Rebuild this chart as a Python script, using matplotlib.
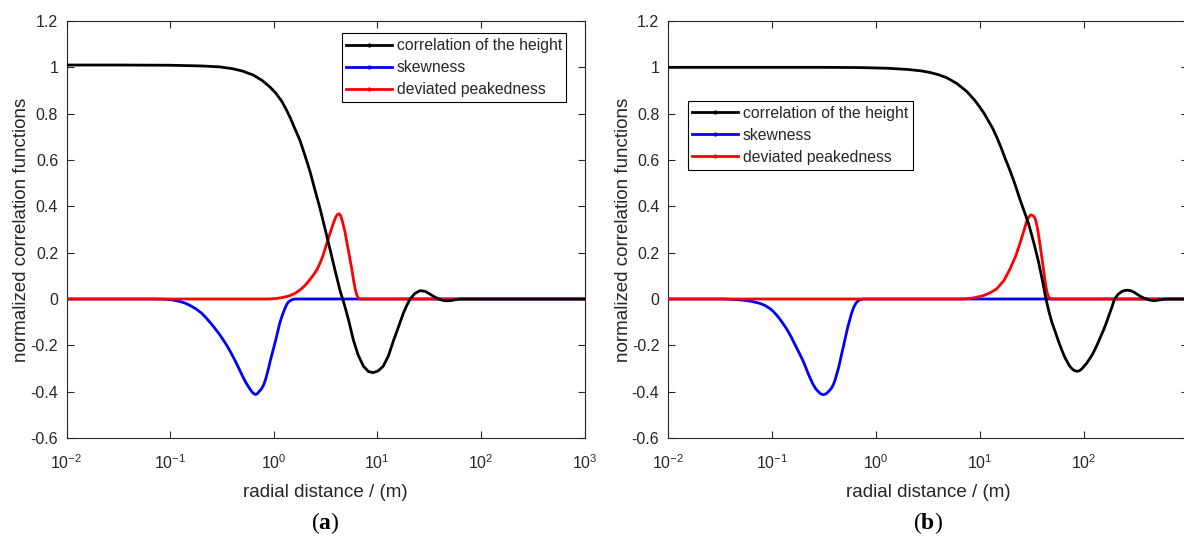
import numpy as np
from matplotlib import pyplot as plt
from matplotlib.lines import Line2D
from matplotlib.ticker import FormatStrFormatter, NullLocator

plt.rcParams['font.family'] = ['Liberation Sans', 'DejaVu Sans']
plt.rcParams['mathtext.fontset'] = 'custom'
plt.rcParams['mathtext.rm'] = 'Liberation Sans'
plt.rcParams['mathtext.bf'] = 'Liberation Serif:bold'

# panel (a)
a_height_x = [0.01, 0.03, 0.1, 0.2, 0.3, 0.4, 0.5, 0.64, 0.78, 0.92, 1.05, 1.2, 1.33, 1.45, 1.6, 1.79, 2.0,
              2.24, 2.5, 2.8, 3.1, 3.49, 3.9, 4.37, 4.7, 4.95, 5.3, 5.86, 6.5, 7.33, 8.2, 9.1, 10.2, 11.4,
              12.8, 14.3, 16, 17.8, 19.2, 20.7, 23, 25.8, 29, 32, 34.7, 37.5, 40, 43, 46.7, 51, 55, 63,
              100, 1000]
a_height_y = [1.01, 1.01, 1.009, 1.006, 1.002, 0.994, 0.984, 0.966, 0.942, 0.915, 0.888, 0.852, 0.815,
              0.78, 0.735, 0.685, 0.62, 0.55, 0.47, 0.39, 0.31, 0.215, 0.125, 0.035, -0.01, -0.045, -0.095,
              -0.176, -0.24, -0.29, -0.313, -0.318, -0.31, -0.29, -0.245, -0.18, -0.12, -0.062, -0.028,
              0.0, 0.024, 0.036, 0.033, 0.022, 0.012, 0.004, -0.002, -0.006, -0.008, -0.007, -0.004, 0.0,
              0.0, 0.0]
a_skew_x = [0.01, 0.07, 0.09, 0.105, 0.125, 0.14, 0.156, 0.178, 0.2, 0.22, 0.243, 0.27, 0.3, 0.325, 0.352,
            0.38, 0.41, 0.44, 0.473, 0.5, 0.53, 0.56, 0.59, 0.625, 0.66, 0.69, 0.72, 0.755, 0.795, 0.83,
            0.86, 0.89, 0.92, 0.96, 1.0, 1.035, 1.07, 1.11, 1.15, 1.2, 1.24, 1.29, 1.33, 1.38, 1.44, 1.52,
            1.6, 1000]
a_skew_y = [0, 0, -0.001, -0.004, -0.011, -0.018, -0.028, -0.043, -0.06, -0.079, -0.101, -0.126, -0.153,
            -0.176, -0.2, -0.226, -0.254, -0.281, -0.31, -0.333, -0.355, -0.373, -0.389, -0.404, -0.412,
            -0.41, -0.40, -0.39, -0.373, -0.35, -0.325, -0.3, -0.272, -0.24, -0.21, -0.184, -0.158,
            -0.128, -0.10, -0.075, -0.057, -0.038, -0.025, -0.014, -0.007, -0.002, 0.0, 0]
a_peak_x = [0.01, 0.9, 1.05, 1.2, 1.4, 1.6, 1.79, 2.0, 2.2, 2.4, 2.6, 2.8, 3.0, 3.25, 3.5, 3.76, 3.95,
            4.12, 4.27, 4.42, 4.6, 4.87, 5.1, 5.35, 5.66, 5.9, 6.1, 6.3, 6.5, 6.8, 1000]
a_peak_y = [0, 0.0, 0.002, 0.006, 0.013, 0.024, 0.039, 0.058, 0.08, 0.102, 0.125, 0.155, 0.19, 0.24,
            0.285, 0.327, 0.352, 0.365, 0.368, 0.36, 0.335, 0.29, 0.24, 0.19, 0.13, 0.08, 0.045, 0.02,
            0.006, 0.0, 0]

# panel (b)
b_height_x = [0.01, 0.3, 0.7, 1.3, 2.0, 2.7, 3.3, 4.0, 4.8, 6.0, 7.5, 9, 10, 11, 12, 13.3, 14.5, 16, 17.5,
              19.4, 21.5, 24.2, 27, 29.5, 33, 36.5, 40, 43, 46, 49, 53.6, 57, 61, 65, 68.6, 72, 76, 80,
              85, 90, 95, 100, 106, 113, 120, 127, 134, 145, 155, 165, 174, 185, 196, 212, 230, 245, 263,
              280, 300, 325, 352, 375, 398, 430, 470, 500, 530, 570, 610, 1000]
b_height_y = [1.0, 1.0, 0.999, 0.996, 0.991, 0.985, 0.978, 0.968, 0.955, 0.93, 0.895, 0.855, 0.827, 0.80,
              0.77, 0.735, 0.698, 0.652, 0.605, 0.555, 0.5, 0.43, 0.37, 0.32, 0.24, 0.16, 0.075, 0.0,
              -0.055, -0.1, -0.15, -0.185, -0.22, -0.25, -0.27, -0.287, -0.3, -0.308, -0.312, -0.31,
              -0.302, -0.29, -0.277, -0.258, -0.24, -0.218, -0.196, -0.16, -0.13, -0.098, -0.068, -0.035,
              0.0, 0.02, 0.032, 0.037, 0.038, 0.036, 0.03, 0.02, 0.01, 0.004, 0.0, -0.005, -0.007, -0.006,
              -0.004, -0.002, 0.0, 0.0]
b_skew_x = [0.01, 0.035, 0.0427, 0.05, 0.06, 0.068, 0.077, 0.086, 0.095, 0.103, 0.111, 0.12, 0.13, 0.14,
            0.15, 0.162, 0.175, 0.188, 0.201, 0.213, 0.225, 0.237, 0.25, 0.265, 0.28, 0.296, 0.313, 0.33,
            0.35, 0.37, 0.39, 0.405, 0.42, 0.436, 0.452, 0.47, 0.49, 0.507, 0.525, 0.545, 0.565, 0.585,
            0.607, 0.63, 0.65, 0.675, 0.70, 0.75, 1000]
b_skew_y = [0, 0, -0.002, -0.004, -0.008, -0.013, -0.019, -0.028, -0.04, -0.053, -0.069, -0.088, -0.11,
            -0.132, -0.155, -0.185, -0.215, -0.243, -0.27, -0.298, -0.325, -0.348, -0.37, -0.388, -0.40,
            -0.41, -0.413, -0.41, -0.40, -0.388, -0.37, -0.35, -0.325, -0.3, -0.27, -0.235, -0.2, -0.17,
            -0.14, -0.11, -0.085, -0.06, -0.04, -0.025, -0.015, -0.008, -0.004, 0.0, 0]
b_peak_x = [0.01, 6.9, 8.5, 10.7, 12.5, 14.4, 17, 19.4, 22, 24.2, 26.2, 28.1, 29.5, 30.8, 32.3, 33.5,
            34.5, 35.8, 37, 38.1, 39.2, 40.4, 41.5, 42.6, 43.7, 45, 46.5, 48.9, 1000]
b_peak_y = [0, 0, 0.004, 0.014, 0.027, 0.043, 0.08, 0.129, 0.185, 0.24, 0.29, 0.335, 0.355, 0.363, 0.36,
            0.352, 0.335, 0.3, 0.26, 0.22, 0.182, 0.14, 0.1, 0.065, 0.036, 0.015, 0.004, 0.0, 0]

labels = ['correlation of the height', 'skewness', 'deviated peakedness']
colors = ['#000000', '#0000ff', '#ff0000']
y_ticks = [-0.6, -0.4, -0.2, 0, 0.2, 0.4, 0.6, 0.8, 1, 1.2]
x_ticks = [1e-2, 1e-1, 1e0, 1e1, 1e2, 1e3]
x_tick_labels = [r'$\mathdefault{10^{-2}}$', r'$\mathdefault{10^{-1}}$', r'$\mathdefault{10^{0}}$',
                 r'$\mathdefault{10^{1}}$', r'$\mathdefault{10^{2}}$', r'$\mathdefault{10^{3}}$']
axis_gray = '#262626'

fig = plt.figure(figsize=(11.84, 5.37), dpi=100)
ax_a = fig.add_axes([66.5 / 1184, 99 / 537, 518.1 / 1184, 417 / 537])
ax_b = fig.add_axes([667.7 / 1184, 99 / 537, 520.5 / 1184, 417 / 537])


def draw_panel(ax, xs, ys, legend_anchor, caption, tick_labels):
    for i in range(3):
        ax.plot(xs[i], ys[i], color=colors[i], linewidth=2.0, zorder=[4, 2, 3][i])
    ax.set_xscale('log')
    ax.set_xlim(1e-2, 1e3)
    ax.set_ylim(-0.6, 1.2)
    ax.set_xticks(x_ticks)
    ax.set_xticklabels(tick_labels)
    ax.xaxis.set_minor_locator(NullLocator())
    ax.set_yticks(y_ticks)
    ax.yaxis.set_major_formatter(FormatStrFormatter('%g'))
    ax.tick_params(direction='in', length=5, width=0.8, top=True, right=True, labelsize=11.5,
                   colors=axis_gray)
    ax.tick_params(axis='x', pad=11)
    ax.tick_params(axis='y', pad=6)
    for sp in ax.spines.values():
        sp.set_color(axis_gray)
        sp.set_linewidth(0.8)
    ax.set_xlabel('radial distance / (m)', fontsize=13.5, color=axis_gray, labelpad=9)
    ax.set_ylabel('normalized correlation functions', fontsize=13.5, color=axis_gray, labelpad=0)
    handles = [Line2D([], [], color=c, linewidth=2.0, marker='.', markersize=4) for c in colors]
    leg = ax.legend(handles, labels, loc='upper left', bbox_to_anchor=legend_anchor, borderaxespad=0,
                    fontsize=11.3, handlelength=2.9, handletextpad=0.3, labelspacing=0.45,
                    borderpad=0.3, fancybox=False, framealpha=1, edgecolor='#000000')
    leg.get_frame().set_linewidth(0.8)
    for t in leg.get_texts():
        t.set_color(axis_gray)
    ax.text(0.5, -0.205, caption, transform=ax.transAxes, ha='center', va='center',
            fontsize=17, family='Liberation Serif')


draw_panel(ax_a, [a_height_x, a_skew_x, a_peak_x], [a_height_y, a_skew_y, a_peak_y],
           (0.531, 0.9705), r'($\mathbf{a}$)', x_tick_labels)
# the 10^3 label of panel (b) falls outside the picture in the reference
draw_panel(ax_b, [b_height_x, b_skew_x, b_peak_x], [b_height_y, b_skew_y, b_peak_y],
           (0.0384, 0.808), r'($\mathbf{b}$)', x_tick_labels[:-1] + [''])

fig.savefig('out.png', dpi=100)
